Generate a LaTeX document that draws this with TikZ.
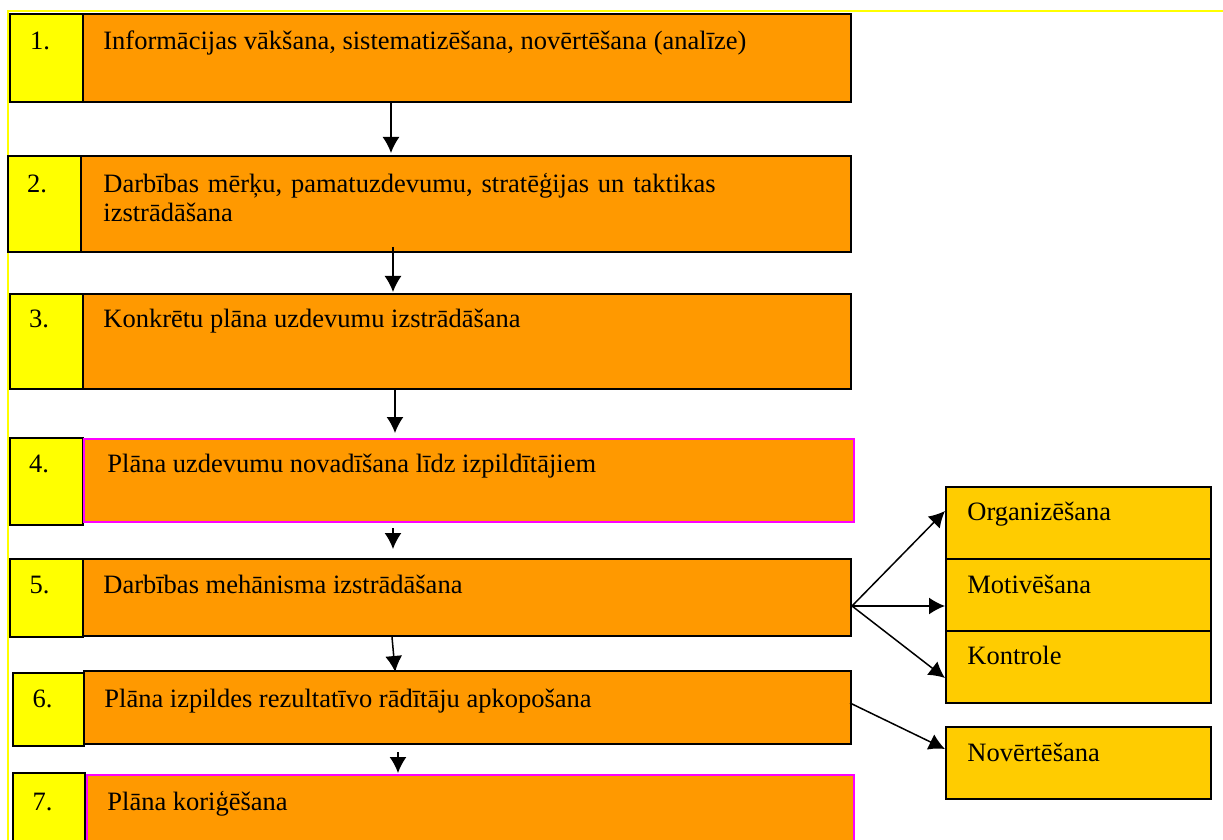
\documentclass[tikz,border=0pt]{standalone}
\usepackage{fontspec}
\setmainfont{Liberation Serif}
\usetikzlibrary{arrows.meta}
\definecolor{numyellow}{HTML}{FFFF00}
\definecolor{taskorange}{HTML}{FF9900}
\definecolor{subgold}{HTML}{FFCC00}
\definecolor{edgepink}{HTML}{FF00FF}

\begin{document}
\begin{tikzpicture}[x=0.5pt,y=-0.5pt,>={Latex[length=8pt,width=8.5pt]},
	font=\fontsize{13.25}{14.5}\selectfont,
	box/.style={draw,line width=1pt,anchor=north west,inner sep=0pt},
	nbox/.style={box,fill=numyellow,minimum width=36.5pt},
	tbox/.style={box,fill=taskorange},
	sbox/.style={box,fill=subgold,minimum width=132.5pt,minimum height=36pt},
	txt/.style={anchor=base west,inner sep=0pt},
	num/.style={anchor=base,inner sep=0pt},
	arr/.style={->,line width=0.75pt}]
	\clip (0,0) rectangle (1223,840);
	% frame
	\draw [numyellow,line width=1pt] (1223,11) -- (8,11) -- (8,840);
	% left column
	\node [nbox,minimum height=44pt] (n1) at (9,13) {};
	\node [tbox,minimum width=384pt,minimum height=44pt] (b1) at (82,13) {};
	\node [num] (m1) at (40,50) {1.};
	\node [txt] (l1) at (103,50) {Informācijas vākšana, sistematizēšana, novērtēšana (analīze)};

	\node [nbox,minimum height=48pt] (n2) at (7,155) {};
	\node [tbox,minimum width=385pt,minimum height=48pt] (b2) at (80,155) {};
	\node [num] (m2) at (37,193) {2.};
	\node [txt,text width=360pt,align=left] (l2) at (103,193)
		{Darbības mērķu, pamatuzdevumu, stratēģijas un taktikas\\izstrādāšana};

	\node [nbox,minimum height=47.5pt] (n3) at (9,293) {};
	\node [tbox,minimum width=384pt,minimum height=47.5pt] (b3) at (82,293) {};
	\node [num] (m3) at (39,328) {3.};
	\node [txt] (l3) at (103,328) {Konkrētu plāna uzdevumu izstrādāšana};

	\node [nbox,minimum height=43.5pt] (n4) at (9,437) {};
	\node [tbox,draw=edgepink,minimum width=385pt,minimum height=41.5pt] (b4) at (83,438) {};
	\node [num] (m4) at (39,473) {4.};
	\node [txt] (l4) at (107,473) {Plāna uzdevumu novadīšana līdz izpildītājiem};

	\node [nbox,minimum height=39pt] (n5) at (9,558) {};
	\node [tbox,minimum width=384pt,minimum height=38.5pt] (b5) at (82,558) {};
	\node [num] (m5) at (39.5,593) {5.};
	\node [txt] (l5) at (103,593) {Darbības mehānisma izstrādāšana};

	\node [nbox,minimum width=35.5pt,minimum height=36.5pt] (n6) at (12,672) {};
	\node [tbox,minimum width=383.5pt,minimum height=36.5pt] (b6) at (83,670) {};
	\node [num] (m6) at (42.5,707) {6.};
	\node [txt] (l6) at (104,707) {Plāna izpildes rezultatīvo rādītāju apkopošana};

	\node [nbox,minimum width=36pt,minimum height=40pt] (n7) at (12,772) {};
	\node [tbox,draw=edgepink,minimum width=383.5pt,minimum height=40pt] (b7) at (86,774) {};
	\node [num] (m7) at (42.5,810) {7.};
	\node [txt] (l7) at (107,810) {Plāna koriģēšana};
	% right column
	\node [sbox] (r1) at (945,486) {};
	\node [sbox] (r2) at (945,558) {};
	\node [sbox] (r3) at (945,630) {};
	\node [sbox] (r4) at (945,726) {};
	\node [txt] (k1) at (967,520) {Organizēšana};
	\node [txt] (k2) at (967,593) {Motivēšana};
	\node [txt] (k3) at (967,664) {Kontrole};
	\node [txt] (k4) at (967,761) {Novērtēšana};
	% arrows
	\draw [arr,shorten >=1pt] (b1.south -| 391,0) -- (b2.north -| 391,0);
	\draw [arr,shorten <=-3pt,shorten >=0.5pt] (b2.south -| 393,0) -- (b3.north -| 393,0);
	\draw [arr,shorten >=2.5pt] (b3.south -| 395,0) -- (b4.north -| 395,0);
	\draw [arr,shorten <=2.5pt,shorten >=4.5pt] (b4.south -| 393,0) -- (b5.north -| 393,0);
	\draw [arr,shorten >=-1pt] (b5.south -| 392,0) -- (b6.north -| 395,0);
	\draw [arr,shorten <=3.5pt,shorten >=0.5pt] (b6.south -| 398,0) -- (b7.north -| 398,0);
	\draw [arr] ([yshift=-4.25pt]b5.east) -- ([yshift=6pt]r1.west);
	\draw [arr] ([yshift=-4.25pt]b5.east) -- ([yshift=-5.5pt]r2.west);
	\draw [arr] ([yshift=-4.25pt]b5.east) -- ([yshift=-5.5pt]r3.west);
	\draw [arr] ([xshift=-1pt,yshift=2.25pt]b6.east) -- ([yshift=7pt]r4.west);
\end{tikzpicture}
\end{document}
